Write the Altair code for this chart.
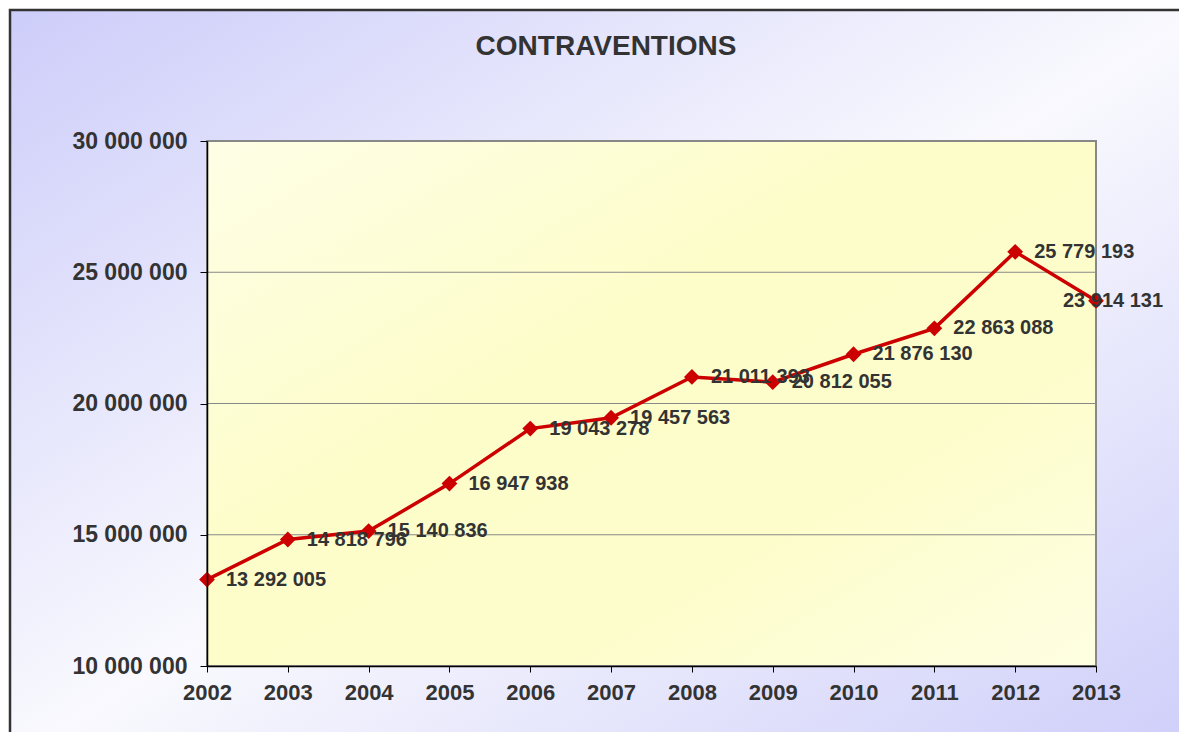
import altair as alt
import pandas as pd

years = [2002, 2003, 2004, 2005, 2006, 2007, 2008, 2009, 2010, 2011, 2012, 2013]
values = [13292005, 14818796, 15140836, 16947938, 19043278, 19457563,
          21011393, 20812055, 21876130, 22863088, 25779193, 23914131]
grid_values = [15000000, 20000000, 25000000, 30000000]
y_ticks = [10000000, 15000000, 20000000, 25000000, 30000000]
title_text = "CONTRAVENTIONS"

df = pd.DataFrame({
    "year": years,
    "value": values,
    "label": [f"{v:,}".replace(",", " ") for v in values],
})

W, H = 889, 525
FONT = "Liberation Sans"
RED = "#cc0000"
TXT = "#333333"

x_scale = alt.Scale(domain=[2002, 2013], nice=False, zero=False)
y_scale = alt.Scale(domain=[10000000, 30000000], nice=False, zero=False)

x_axis = alt.Axis(values=years, format="d", title=None, grid=False,
                  labelFontSize=22, labelFont=FONT, labelFontWeight="bold",
                  labelColor=TXT, tickSize=6, tickColor="black",
                  domainColor="black", domainWidth=1.5, labelPadding=10,
                  labelFlush=False, labelOverlap=False, zindex=1)
y_axis = alt.Axis(values=y_ticks, title=None, grid=False,
                  labelExpr="replace(replace(format(datum.value, ','), ',', ' '), ',', ' ')",
                  labelFontSize=23, labelFont=FONT, labelFontWeight="bold",
                  labelColor=TXT, tickSize=7, tickColor="black",
                  domainColor="black", domainWidth=1.5, labelPadding=13,
                  labelFlush=False, labelOverlap=False, zindex=1)

dummy = alt.Data(values=[{"a": 1}])

outer_bg = alt.Chart(dummy).mark_rect(
    fill=alt.LinearGradient(
        gradient="linear", x1=0, y1=0, x2=1, y2=1,
        stops=[alt.GradientStop(color="#cdcdfa", offset=0),
               alt.GradientStop(color="#f9f9fe", offset=0.5),
               alt.GradientStop(color="#cdcdfa", offset=1)]),
    stroke="#333333", strokeWidth=2.5,
).encode(x=alt.value(-197), x2=alt.value(1000), y=alt.value(-131), y2=alt.value(620))

plot_bg = alt.Chart(dummy).mark_rect(
    fill=alt.LinearGradient(
        gradient="linear", x1=0, y1=0, x2=1, y2=1,
        stops=[alt.GradientStop(color="#fefee6", offset=0),
               alt.GradientStop(color="#fdfdca", offset=0.4),
               alt.GradientStop(color="#fdfdcc", offset=0.7),
               alt.GradientStop(color="#fefee2", offset=1)]),
    stroke="#888888", strokeWidth=2,
).encode(x=alt.value(0), x2=alt.value(W), y=alt.value(0), y2=alt.value(H))

grid = alt.Chart(pd.DataFrame({"g": grid_values})).mark_rule(
    color="#888888", strokeWidth=1
).encode(y=alt.Y("g:Q", scale=y_scale, axis=y_axis),
         x=alt.value(0), x2=alt.value(W))

base = alt.Chart(df)
line = base.mark_line(color=RED, strokeWidth=3.5).encode(
    x=alt.X("year:Q", scale=x_scale, axis=x_axis),
    y=alt.Y("value:Q", scale=y_scale, axis=y_axis))
pts = base.mark_point(shape="diamond", filled=True, size=250, color=RED, opacity=1).encode(
    x="year:Q", y="value:Q")
labels = base.transform_filter(alt.datum.year < 2013).mark_text(
    align="left", baseline="middle", dx=19, fontSize=20,
    font=FONT, fontWeight="bold", color=TXT).encode(
    x="year:Q", y="value:Q", text="label:N")
last_label = base.transform_filter(alt.datum.year == 2013).mark_text(
    align="left", baseline="middle", dx=-33, fontSize=20,
    font=FONT, fontWeight="bold", color=TXT).encode(
    x="year:Q", y="value:Q", text="label:N")

title = alt.Chart(dummy).mark_text(
    text=title_text, fontSize=28, font=FONT, fontWeight="bold", color=TXT,
    align="center", baseline="middle"
).encode(x=alt.value(399), y=alt.value(-94))

chart = alt.layer(outer_bg, plot_bg, grid, line, pts, labels, last_label, title).properties(
    width=W, height=H,
    autosize=alt.AutoSizeParams(type="none"),
    padding={"left": 199, "top": 133, "right": 83, "bottom": 66},
).configure_view(stroke=None).configure(background="white")

chart.save("out.html", embed_options={"renderer": "svg", "actions": False})
